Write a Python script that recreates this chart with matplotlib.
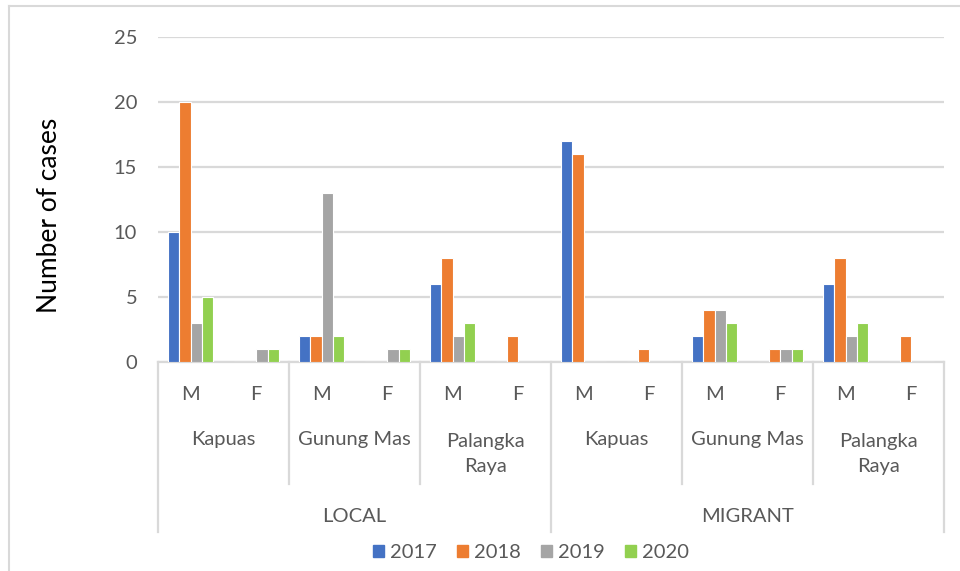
import matplotlib
matplotlib.use("Agg")
import matplotlib.pyplot as plt
import numpy as np
from matplotlib.transforms import blended_transform_factory
from matplotlib.lines import Line2D
from matplotlib.patches import Rectangle

# ---------------- data ----------------
groups = ["LOCAL", "MIGRANT"]
districts = ["Kapuas", "Gunung Mas", "Palangka\nRaya"]
sexes = ["M", "F"]
years = ["2017", "2018", "2019", "2020"]

# order: LOCAL(Kapuas M,F, Gunung Mas M,F, Palangka Raya M,F), MIGRANT(same)
v2017 = [10, 0, 2, 0, 6, 0, 17, 0, 2, 0, 6, 0]
v2018 = [20, 0, 2, 0, 8, 2, 16, 1, 4, 1, 8, 2]
v2019 = [3, 1, 13, 1, 2, 0, 0, 0, 4, 1, 2, 0]
v2020 = [5, 1, 2, 1, 3, 0, 0, 0, 3, 1, 3, 0]
series = [v2017, v2018, v2019, v2020]
colors = ["#4472C4", "#ED7D31", "#A5A5A5", "#92D050"]

W, H = 960, 571
fig = plt.figure(figsize=(W / 100, H / 100), dpi=100)
plt.rcParams['font.family'] = ['Lato', 'DejaVu Sans']

left, right = 158, 944
y0, ytop = 362, 36.7
ax = fig.add_axes([left / W, 1 - y0 / H, (right - left) / W, (y0 - ytop) / H])

n = len(v2017)
x = np.arange(n)
step = 0.172
bw = 0.172
for i, (vals, c) in enumerate(zip(series, colors)):
    ax.bar(x + (i - 1.5) * step, vals, width=bw, color=c, edgecolor="white",
           linewidth=0.8, label=years[i], zorder=3)

fs = 14.5
ax.set_xlim(-0.5, n - 0.5)
ax.set_ylim(0, 25)
ax.set_yticks([0, 5, 10, 15, 20, 25])
ax.yaxis.grid(True, color="#D9D9D9", linewidth=1.6, zorder=0)
ax.set_axisbelow(True)
for s in ["top", "right", "left"]:
    ax.spines[s].set_visible(False)
ax.spines["bottom"].set_color("#D9D9D9")
ax.spines["bottom"].set_linewidth(1.6)
ax.tick_params(axis="y", length=0, labelsize=fs, labelcolor="#595959", pad=15)
ax.tick_params(axis="x", length=0, labelbottom=False)
ax.set_ylabel("Number of cases", fontsize=19, color="black")

ah = y0 - ytop
def ay(p):
    return (y0 - p) / ah

ax.yaxis.set_label_coords((50 - left) / (right - left), ay(215))
ax.yaxis.label.set_va("center")

tr = blended_transform_factory(ax.transData, ax.transAxes)
sep_col = "#D9D9D9"
# separators
for b in [-0.5, 5.5, n - 0.5]:
    ax.add_line(Line2D([b, b], [0, ay(532)], transform=tr, color=sep_col,
                       lw=1.6, clip_on=False))
for b in [1.5, 3.5, 7.5, 9.5]:
    ax.add_line(Line2D([b, b], [0, ay(484)], transform=tr, color=sep_col,
                       lw=1.6, clip_on=False))

tc = "#595959"
for i in range(n):
    ax.text(x[i], ay(395), sexes[i % 2], transform=tr, ha="center", va="center",
            fontsize=fs, color=tc)
for g in range(2):
    for d, name in enumerate(districts):
        cx = g * 6 + d * 2 + 0.5
        ax.text(cx, ay(440) if "\n" not in name else ay(454), name, transform=tr,
                ha="center", va="center", fontsize=fs, color=tc,
                linespacing=1.6)
    ax.text(g * 6 + 2.5, ay(517), groups[g], transform=tr, ha="center",
            va="center", fontsize=fs, color=tc)

leg = fig.legend(handles=[Rectangle((0, 0), 1, 1, color=c) for c in colors],
                 labels=years, loc="center", bbox_to_anchor=(531 / W, 1 - 553 / H),
                 ncol=4, frameon=False, fontsize=fs, handlelength=0.55,
                 handleheight=0.55, handletextpad=0.3, columnspacing=1.0)
for t in leg.get_texts():
    t.set_color(tc)

# chart area border (top and left visible)
fig.add_artist(Line2D([9 / W, 1], [1 - 6 / H, 1 - 6 / H], color="#D9D9D9", lw=1.5))
fig.add_artist(Line2D([9 / W, 9 / W], [0, 1 - 6 / H], color="#D9D9D9", lw=1.5))

fig.savefig("out.png", dpi=100)
